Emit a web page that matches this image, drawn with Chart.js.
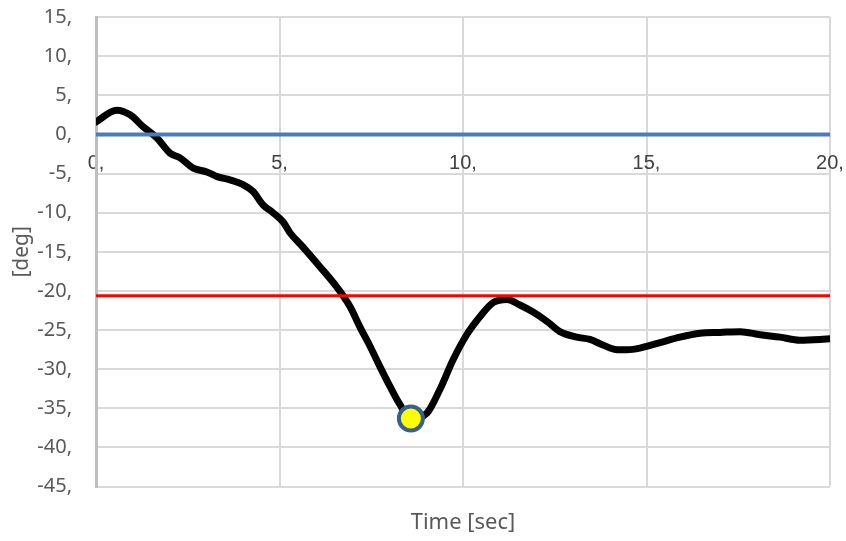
<!DOCTYPE html>
<html>
<head>
<meta charset="utf-8">
<script src="https://cdn.jsdelivr.net/npm/chart.js@4/dist/chart.umd.min.js"></script>
<style>
html,body{margin:0;padding:0;background:#fff;}
#wrap{width:846px;height:541px;position:relative;}
</style>
</head>
<body>
<div id="wrap"><canvas id="c"></canvas></div>
<script>
// Time [sec] samples of the response curve
const timeSec = [0, 0.56, 0.93, 1.28, 1.66, 2.02, 2.29, 2.65, 3.02, 3.3, 3.65, 4.0, 4.28, 4.55, 4.82, 5.1, 5.29, 5.64, 6.1, 6.56, 6.92, 7.19, 7.47, 7.74, 8.01, 8.28, 8.58, 9.02, 9.37, 9.73, 10.1, 10.46, 10.82, 11.2, 11.55, 11.91, 12.29, 12.64, 13.1, 13.46, 13.81, 14.2, 14.47, 14.82, 15.37, 15.91, 16.46, 17.0, 17.55, 18.1, 18.64, 19.18, 19.73, 20.0];
const angleDeg = [1.6, 3.1, 2.5, 1.0, -0.45, -2.4, -3.0, -4.3, -4.8, -5.4, -5.8, -6.4, -7.3, -9.0, -10.0, -11.2, -12.6, -14.4, -16.9, -19.5, -22.0, -24.6, -27.1, -29.7, -32.2, -34.5, -36.3, -35.6, -32.6, -28.8, -25.6, -23.3, -21.5, -21.1, -21.8, -22.7, -23.9, -25.2, -25.9, -26.2, -26.9, -27.5, -27.5, -27.3, -26.6, -25.9, -25.4, -25.3, -25.2, -25.6, -25.9, -26.3, -26.2, -26.1];
const zeroLineX = [0, 20];
const zeroLineY = [0, 0];
const limitLineX = [0, 20];
const limitLineY = [-20.6, -20.6];
const peakPoint = {x: 8.58, y: -36.3};
const xTicks = [0, 5, 10, 15, 20];
const yTicks = [15, 10, 5, 0, -5, -10, -15, -20, -25, -30, -35, -40, -45];

const toPts = (xs, ys) => xs.map((x, i) => ({x: x, y: ys[i]}));
const noPad = (s) => { s.paddingTop = 0; s.paddingBottom = 0; s.paddingLeft = 0; s.paddingRight = 0; };

new Chart(document.getElementById('c'), {
  type: 'line',
  data: {
    datasets: [
      {
        data: [peakPoint],
        showLine: false,
        pointRadius: 12,
        pointBorderWidth: 4,
        pointBackgroundColor: '#ffff00',
        pointBorderColor: '#3b5f8c',
        order: 0
      },
      {
        data: toPts(limitLineX, limitLineY),
        borderColor: '#ff0000',
        borderWidth: 3,
        pointRadius: 0,
        order: 1
      },
      {
        data: toPts(zeroLineX, zeroLineY),
        borderColor: '#4a7ebb',
        borderWidth: 4,
        pointRadius: 0,
        order: 2
      },
      {
        data: toPts(timeSec, angleDeg),
        borderColor: '#000000',
        borderWidth: 7,
        pointRadius: 0,
        cubicInterpolationMode: 'monotone',
        borderCapStyle: 'round',
        borderJoinStyle: 'round',
        order: 3
      }
    ]
  },
  options: {
    responsive: true,
    maintainAspectRatio: false,
    animation: false,
    devicePixelRatio: 1,
    layout: {padding: {top: 17, right: 16, bottom: 5, left: 0}},
    plugins: {
      legend: {display: false},
      tooltip: {enabled: false},
      title: {display: false}
    },
    scales: {
      x: {
        type: 'linear',
        position: {y: 0},
        min: 0, max: 20,
        afterBuildTicks: (s) => { s.ticks = xTicks.map(v => ({value: v})); },
        afterFit: noPad,
        ticks: {
          callback: (v) => v + ',',
          color: '#404040',
          font: {family: 'Liberation Sans', size: 20},
          padding: 17,
          maxRotation: 0
        },
        grid: {color: '#d9d9d9', lineWidth: 2, drawTicks: false},
        border: {display: false}
      },
      x2: {
        type: 'linear',
        position: 'bottom',
        min: 0, max: 20,
        afterFit: noPad,
        ticks: {display: false},
        grid: {display: false, drawTicks: false},
        border: {display: false},
        title: {
          display: true,
          text: 'Time [sec]',
          color: '#595959',
          font: {family: 'Noto Sans', size: 22},
          padding: {top: 23, bottom: 0}
        }
      },
      y: {
        type: 'linear',
        position: 'left',
        min: -45, max: 15,
        afterBuildTicks: (s) => { s.ticks = yTicks.map(v => ({value: v})); },
        afterFit: (s) => { s.width = 96; noPad(s); },
        ticks: {
          callback: (v) => v + ',',
          color: '#595959',
          font: {family: 'Noto Sans', size: 20},
          padding: 24
        },
        grid: {color: '#d9d9d9', lineWidth: 2, drawTicks: false},
        border: {display: true, color: '#bfbfbf', width: 3},
        title: {
          display: true,
          text: '[deg]',
          color: '#595959',
          font: {family: 'Noto Sans', size: 21},
          padding: {top: 9, bottom: 0}
        }
      }
    }
  }
});
</script>
</body>
</html>
